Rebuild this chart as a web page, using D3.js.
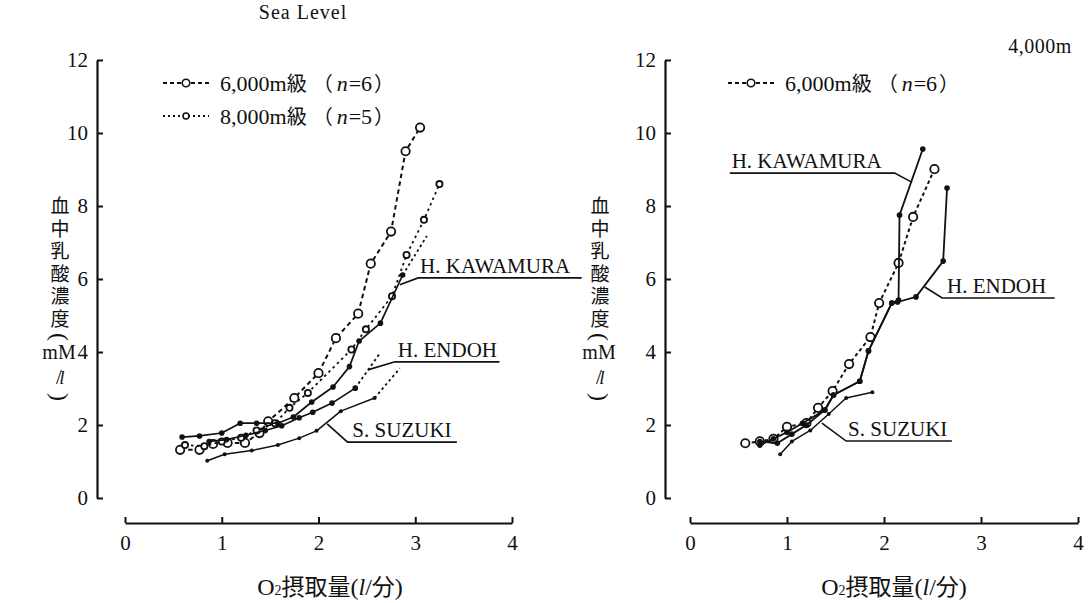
<!DOCTYPE html>
<html>
<head>
<meta charset="utf-8">
<script src="https://cdn.jsdelivr.net/npm/d3@7"></script>
<style>
  body { margin: 0; background: #fff; }
  svg { display: block; }
</style>
</head>
<body>
<svg id="chart" width="1088" height="603"></svg>
<script>
// ---- tick values -------------------------------------------------------
const xTicks = [0, 1, 2, 3, 4];
const yTicks = [0, 2, 4, 6, 8, 10, 12];

// ---- Sea Level panel: [O2 uptake (l/min), blood lactate (mM/l)] --------
const sea6000 = [[0.57,1.32],[0.77,1.32],[0.91,1.48],[1.06,1.51],[1.24,1.51],[1.39,1.78],[1.48,2.1],[1.75,2.74],[2.0,3.42],[2.18,4.38],[2.41,5.05],[2.54,6.42],[2.75,7.3],[2.9,9.5],[3.05,10.15]];
const sea8000 = [[0.62,1.45],[0.82,1.42],[1.0,1.55],[1.2,1.65],[1.36,1.85],[1.55,2.05],[1.7,2.47],[1.89,2.88],[2.34,4.07],[2.49,4.62],[2.76,5.53],[2.91,6.66],[3.09,7.62],[3.25,8.6]];
const seaKawamura = [[0.59,1.67],[0.77,1.7],[1.0,1.78],[1.19,2.05],[1.36,2.05],[1.58,2.05],[1.74,2.22],[1.93,2.63],[2.15,3.04],[2.32,3.6],[2.42,4.3],[2.64,4.79],[2.87,6.11]];
const seaKawamuraExt = [[2.87,6.11],[3.12,7.18]];
const seaEndoh = [[0.87,1.55],[1.05,1.6],[1.25,1.72],[1.45,1.85],[1.62,1.98],[1.8,2.2],[1.94,2.35],[2.14,2.6],[2.38,3.01]];
const seaEndohExt = [[2.38,3.01],[2.63,3.95]];
const seaSuzuki = [[0.85,1.02],[1.03,1.2],[1.31,1.3],[1.58,1.45],[1.8,1.64],[1.98,1.84],[2.23,2.38],[2.58,2.74]];
const seaSuzukiExt = [[2.58,2.74],[2.84,3.55]];

// ---- 4,000m panel --------------------------------------------------------
const alt6000 = [[0.57,1.5],[0.72,1.55],[0.86,1.62],[1.0,1.95],[1.2,2.05],[1.32,2.47],[1.47,2.93],[1.64,3.67],[1.86,4.41],[1.95,5.34],[2.15,6.44],[2.3,7.7],[2.52,9.01]];
const altKawamura = [[0.72,1.45],[0.86,1.62],[1.0,1.8],[1.16,2.05],[1.39,2.41],[1.48,2.82],[1.75,3.2],[1.84,4.03],[2.08,5.34],[2.15,5.42],[2.16,7.75],[2.4,9.56]];
const altEndoh = [[0.72,1.55],[0.9,1.5],[1.05,1.75],[1.2,2.0],[1.39,2.41],[1.48,2.82],[1.75,3.2],[1.84,4.03],[2.08,5.34],[2.14,5.37],[2.33,5.51],[2.61,6.49],[2.65,8.49]];
const altSuzuki = [[0.93,1.2],[1.05,1.55],[1.24,1.85],[1.43,2.3],[1.61,2.74],[1.88,2.9]];

// ---- texts ---------------------------------------------------------------
const legend6000 = "6,000m";
const legend8000 = "8,000m";
const yLabelChars = ["血","中","乳","酸","濃","度"];
const subjectNames = ["H. KAWAMURA", "H. ENDOH", "S. SUZUKI"];

const SERIF = "'Liberation Serif','DejaVu Serif',serif";
const CJK = "'Noto Sans CJK JP','Noto Sans CJK SC',sans-serif";
const INK = "#111";

const svg = d3.select("#chart");

function drawPanel(p) {
  const x = d3.scaleLinear().domain([0, 4]).range(p.xRange);
  const y = d3.scaleLinear().domain([0, 12]).range([498, 60]);
  const g = svg.append("g");

  // y axis (ticks point inward, labels on the left)
  const ya = g.append("g")
    .attr("transform", `translate(${p.yAxisX},0)`)
    .call(d3.axisLeft(y).tickValues(yTicks).tickFormat(d3.format("d"))
      .tickSizeInner(-6).tickSizeOuter(0).tickPadding(9));
  // x axis (ticks point up, labels below)
  const xa = g.append("g")
    .attr("transform", `translate(0,523)`)
    .call(d3.axisBottom(x).tickValues(xTicks).tickFormat(d3.format("d"))
      .tickSizeInner(-6).tickSizeOuter(0).tickPadding(12));
  [ya, xa].forEach(a => {
    a.select(".domain").attr("stroke", INK).attr("stroke-width", 2.2);
    a.selectAll(".tick line").attr("stroke", INK).attr("stroke-width", 2);
    a.selectAll(".tick text").attr("fill", INK).attr("font-family", SERIF)
      .attr("font-size", 21);
  });

  const line = d3.line().x(d => x(d[0])).y(d => y(d[1]));

  p.series.forEach(s => {
    g.append("path").datum(s.data).attr("d", line)
      .attr("fill", "none").attr("stroke", INK)
      .attr("stroke-width", s.width)
      .attr("stroke-dasharray", s.dash || null)
      .attr("stroke-linejoin", "round");
    if (s.ext) {
      g.append("path").datum(s.ext).attr("d", line)
        .attr("fill", "none").attr("stroke", INK)
        .attr("stroke-width", 1.8).attr("stroke-dasharray", "2.5,3");
    }
    if (s.marker) {
      g.selectAll(null).data(s.data).join("circle")
        .attr("cx", d => x(d[0])).attr("cy", d => y(d[1]))
        .attr("r", s.marker.r)
        .attr("fill", s.marker.open ? "#fff" : INK)
        .attr("stroke", INK).attr("stroke-width", s.marker.open ? 1.8 : 0);
    }
  });

  // subject labels with leader lines and underlines
  p.labels.forEach(l => {
    const pts = [l.from, l.elbow, l.end];
    g.append("path").datum(pts).attr("d", line)
      .attr("fill", "none").attr("stroke", INK).attr("stroke-width", 1.6);
    g.append("text").attr("x", x(l.textX)).attr("y", y(l.elbow[1]) - 5)
      .attr("font-family", SERIF).attr("font-size", 21).attr("fill", INK)
      .text(l.name);
  });

  // legend
  p.legend.forEach((lg, i) => {
    const ly = 83 + i * 33;
    const lx = p.legendX;
    g.append("line").attr("x1", lx).attr("x2", lx + 46).attr("y1", ly).attr("y2", ly)
      .attr("stroke", INK).attr("stroke-width", lg.width).attr("stroke-dasharray", lg.dash);
    g.append("circle").attr("cx", lx + 23).attr("cy", ly).attr("r", lg.r)
      .attr("fill", "#fff").attr("stroke", INK).attr("stroke-width", 1.6);
    const t = g.append("text").attr("x", lx + 57).attr("y", ly + 8)
      .attr("font-family", SERIF).attr("font-size", 22).attr("fill", INK);
    t.append("tspan").text(lg.text);
    t.append("tspan").attr("font-family", CJK).attr("font-size", 20).text("級");
    t.append("tspan").attr("font-family", CJK).attr("font-size", 20).attr("dx", 6).text("（");
    t.append("tspan").attr("font-style", "italic").attr("dx", 4).text("n");
    t.append("tspan").attr("dx", 1).text("=" + lg.n);
    t.append("tspan").attr("font-family", CJK).attr("font-size", 20).attr("dx", 2).text("）");
  });

  // x axis title: O2摂取量(l/分)
  const xt = g.append("text").attr("x", p.xTitleX).attr("y", 595)
    .attr("text-anchor", "middle").attr("font-size", 24).attr("fill", INK);
  xt.append("tspan").attr("font-family", SERIF).text("O");
  xt.append("tspan").attr("font-family", SERIF).attr("font-size", 14).text("2");
  xt.append("tspan").attr("font-family", CJK).attr("font-size", 23).text("摂取量");
  xt.append("tspan").attr("font-family", SERIF).text("(");
  xt.append("tspan").attr("font-family", SERIF).attr("font-style", "italic").text("l");
  xt.append("tspan").attr("font-family", SERIF).text("/");
  xt.append("tspan").attr("font-family", CJK).attr("font-size", 23).text("分");
  xt.append("tspan").attr("font-family", SERIF).text(")");

  // vertical y axis title: 血中乳酸濃度 (mM / l)
  const cx = p.yTitleX;
  const yt = g.append("text").attr("text-anchor", "middle").attr("fill", INK)
    .attr("font-family", CJK).attr("font-size", 19);
  yLabelChars.forEach((c, i) => {
    yt.append("tspan").attr("x", cx).attr("y", 213 + i * 22.5).text(c);
  });
  yt.append("tspan").attr("x", cx - 1).attr("y", 359).attr("font-family", SERIF)
    .attr("font-size", 20).text("mM");
  yt.append("tspan").attr("x", cx - 1).attr("y", 384).attr("font-family", SERIF)
    .attr("font-size", 21).text("/");
  yt.append("tspan").attr("x", cx + 2).attr("y", 384).attr("font-family", SERIF)
    .attr("font-style", "italic").attr("font-size", 19).text("l");
  // parentheses turned sideways for the vertical layout
  [["(", 337], [")", 397]].forEach(([ch, cy]) => {
    g.append("text").attr("transform", `translate(${cx},${cy}) rotate(90)`)
      .attr("text-anchor", "middle").attr("dominant-baseline", "central")
      .attr("font-family", SERIF).attr("font-size", 24).attr("fill", INK).text(ch);
  });

  // panel title
  svg.append("text").attr("x", p.title.x).attr("y", p.title.y).attr("text-anchor", "middle")
    .attr("font-family", SERIF).attr("font-size", p.title.size)
    .attr("letter-spacing", p.title.spacing).attr("fill", INK).text(p.title.text);
}

const openBig = { r: 4.2, open: true };
const openSmall = { r: 3.1, open: true };
const dotBig = { r: 2.8, open: false };
const dotSmall = { r: 2, open: false };

drawPanel({
  xRange: [125, 512], yAxisX: 97, xTitleX: 330, yTitleX: 60, legendX: 163,
  title: { text: "Sea Level", x: 303, y: 19, size: 20, spacing: 1 },
  series: [
    { data: sea6000, width: 2, dash: "4.5,3.5", marker: openBig },
    { data: sea8000, width: 1.8, dash: "2.5,3.5", marker: openSmall },
    { data: seaKawamura, width: 1.7, marker: dotBig, ext: seaKawamuraExt },
    { data: seaEndoh, width: 1.7, marker: dotBig, ext: seaEndohExt },
    { data: seaSuzuki, width: 1.5, marker: dotSmall, ext: seaSuzukiExt }
  ],
  labels: [
    { name: subjectNames[0], from: [2.84, 5.84], elbow: [3.03, 6.03], end: [4.72, 6.03], textX: 3.05 },
    { name: subjectNames[1], from: [2.51, 3.51], elbow: [2.79, 3.73], end: [3.87, 3.73], textX: 2.82 },
    { name: subjectNames[2], from: [2.09, 2.03], elbow: [2.3, 1.53], end: [3.43, 1.53], textX: 2.35 }
  ],
  legend: [
    { text: legend6000, n: 6, dash: "4,3", width: 2, r: 3.8 },
    { text: legend8000, n: 5, dash: "2,3", width: 1.8, r: 3 }
  ]
});

drawPanel({
  xRange: [690, 1078], yAxisX: 665, xTitleX: 894, yTitleX: 600, legendX: 728,
  title: { text: "4,000m", x: 1040, y: 53, size: 20, spacing: 0.5 },
  series: [
    { data: alt6000, width: 2, dash: "3.5,3", marker: openBig },
    { data: altKawamura, width: 1.8, marker: dotBig },
    { data: altEndoh, width: 1.8, marker: dotBig },
    { data: altSuzuki, width: 1.5, marker: dotSmall }
  ],
  labels: [
    { name: subjectNames[0], from: [2.28, 8.66], elbow: [2.11, 8.9], end: [0.41, 8.9], textX: 0.43 },
    { name: subjectNames[1], from: [2.42, 5.78], elbow: [2.6, 5.48], end: [3.76, 5.48], textX: 2.65 },
    { name: subjectNames[2], from: [1.36, 2.05], elbow: [1.61, 1.56], end: [2.7, 1.56], textX: 1.63 }
  ],
  legend: [
    { text: legend6000, n: 6, dash: "4,3", width: 2, r: 3.8 }
  ]
});
</script>
</body>
</html>
